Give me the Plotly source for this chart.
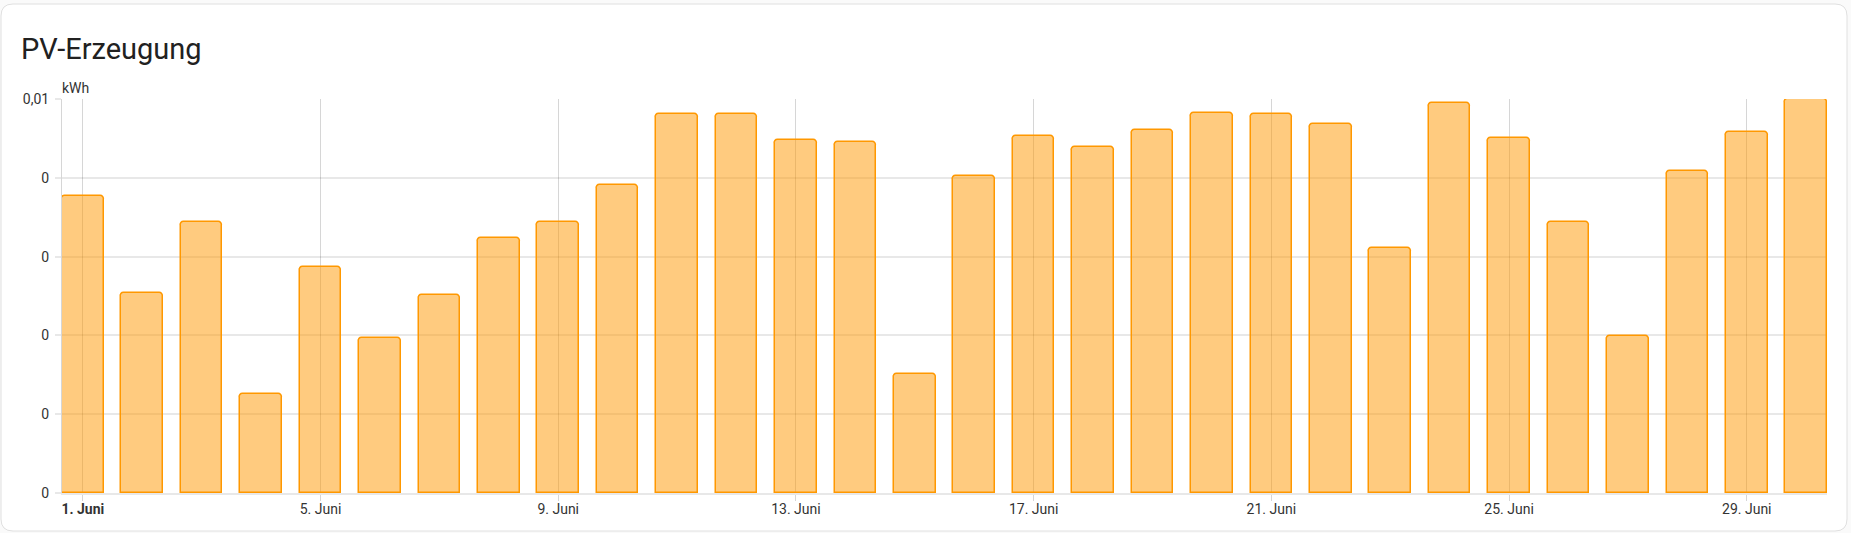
import plotly.graph_objects as go

# ---- data ----
days = [1, 2, 3, 4, 5, 6, 7, 8, 9, 10, 11, 12, 13, 14, 15,
        16, 17, 18, 19, 20, 21, 22, 23, 24, 25, 26, 27, 28, 29, 30]
pv_kwh = [0.00755, 0.00508, 0.00687, 0.00252, 0.00573, 0.00393, 0.00502, 0.00647,
          0.00689, 0.00783, 0.00963, 0.00962, 0.00895, 0.00890, 0.00302, 0.00805,
          0.00907, 0.00877, 0.00921, 0.00965, 0.00961, 0.00937, 0.00623, 0.00991,
          0.00900, 0.00688, 0.00398, 0.00818, 0.00917, 0.01000]
x_tick_vals = [1, 5, 9, 13, 17, 21, 25, 29]
x_tick_text = ["<b>1. Juni</b>", "5. Juni", "9. Juni", "13. Juni", "17. Juni",
               "21. Juni", "25. Juni", "29. Juni"]
y_tick_vals = [0, 0.002, 0.004, 0.006, 0.008, 0.01]
y_tick_text = ["0", "0", "0", "0", "0", "0,01"]
title_text = "PV-Erzeugung"
unit_text = "kWh"

# ---- geometry ----
W, H = 1851, 533
ML, MR, MT, MB = 62, 24, 99, 40
PW, PH = W - ML - MR, H - MT - MB


def px2x(px):
    return (px - ML) / PW


def py2y(py):
    return (H - MB - py) / PH


VGRID = "rgba(0,0,0,0.16)"
HGRID = "rgba(0,0,0,0.09)"
TEXT = "#333333"

fig = go.Figure()
fig.add_trace(go.Bar(
    x=days, y=pv_kwh, width=0.70,
    marker=dict(color="rgba(255,152,0,0.5)",
                line=dict(color="#ff9800", width=1.5),
                cornerradius=4),
    hoverinfo="skip",
))

# card with rounded corners
cx0, cy0, cx1, cy1, r = 1, 4, 1847, 531, 12
path = (
    f"M {px2x(cx0 + r)},{py2y(cy0)} L {px2x(cx1 - r)},{py2y(cy0)} "
    f"Q {px2x(cx1)},{py2y(cy0)} {px2x(cx1)},{py2y(cy0 + r)} "
    f"L {px2x(cx1)},{py2y(cy1 - r)} "
    f"Q {px2x(cx1)},{py2y(cy1)} {px2x(cx1 - r)},{py2y(cy1)} "
    f"L {px2x(cx0 + r)},{py2y(cy1)} "
    f"Q {px2x(cx0)},{py2y(cy1)} {px2x(cx0)},{py2y(cy1 - r)} "
    f"L {px2x(cx0)},{py2y(cy0 + r)} "
    f"Q {px2x(cx0)},{py2y(cy0)} {px2x(cx0 + r)},{py2y(cy0)} Z"
)
fig.add_shape(type="path", path=path, xref="paper", yref="paper",
              fillcolor="#ffffff", line=dict(color="#e0e0e0", width=1), layer="below")

fig.add_annotation(text=title_text, xref="paper", yref="paper",
                   x=px2x(19), y=py2y(49), xanchor="left", yanchor="middle",
                   showarrow=False, font=dict(family="Roboto", size=29, color="#212121"))
fig.add_annotation(text=unit_text, xref="paper", yref="paper",
                   x=px2x(60), y=py2y(98), xanchor="left", yanchor="bottom",
                   showarrow=False, font=dict(family="Roboto", size=14, color=TEXT))

fig.update_layout(
    width=W, height=H,
    margin=dict(l=ML, r=MR, t=MT, b=MB, pad=0),
    paper_bgcolor="#fafafa", plot_bgcolor="rgba(0,0,0,0)",
    showlegend=False,
    font=dict(family="Roboto", size=14, color=TEXT),
    bargap=0,
    xaxis=dict(range=[0.65, 30.35], tickmode="array", tickvals=x_tick_vals,
               ticktext=x_tick_text, showgrid=True, gridcolor=VGRID, gridwidth=1,
               ticks="outside", ticklen=6, tickcolor=VGRID, showline=True,
               linecolor=HGRID, linewidth=2, zeroline=False, fixedrange=True,
               ticklabelstandoff=-4,
               tickfont=dict(family="Roboto", size=14, color=TEXT)),
    yaxis=dict(range=[0, 0.01], tickmode="array", tickvals=y_tick_vals,
               ticktext=y_tick_text, showgrid=True, gridcolor=HGRID, gridwidth=2,
               ticks="outside", ticklen=6, tickcolor=HGRID, tickwidth=2,
               showline=True, linecolor=VGRID, linewidth=1, zeroline=False,
               fixedrange=True, ticklabelstandoff=3,
               tickfont=dict(family="Roboto", size=14, color=TEXT)),
)

fig.write_html("out.html", config={"displayModeBar": False},
               post_script="document.body.style.margin='0';document.body.style.overflow='hidden';")
